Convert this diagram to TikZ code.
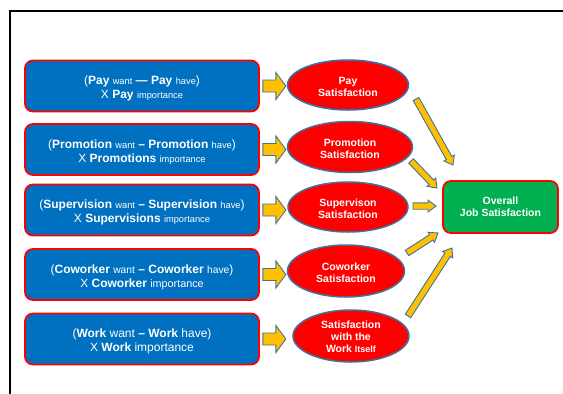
\documentclass[tikz,border=0pt]{standalone}
\usepackage{fontspec}
\setmainfont{Liberation Sans}
\usetikzlibrary{shapes.geometric,calc}

\definecolor{boxblue}{HTML}{0070C0}
\definecolor{ovalred}{HTML}{FF0000}
\definecolor{edgeblue}{HTML}{41719C}
\definecolor{lightedge}{HTML}{2E75B6}
\definecolor{arrowgold}{HTML}{FFC000}
\definecolor{okgreen}{HTML}{00B050}

% small size for the want / have / importance words
\newcommand\sm[2]{{\fontsize{#1}{14}\selectfont #2}}

% block arrow: #1 start, #2 tip, #3 half shaft width, #4 half head width, #5 head length
\newcommand\blockarrow[5]{%
  \coordinate (neck) at ($(#2)!#5!(#1)$);
  \draw[barrow] ($(#1)!#3!90:(#2)$) -- ($(neck)!#3!90:(#2)$) -- ($(neck)!#4!90:(#2)$)
    -- (#2) -- ($(neck)!#4!-90:(#2)$) -- ($(neck)!#3!-90:(#2)$) -- ($(#1)!#3!-90:(#2)$) -- cycle;}

\tikzset{
  factorbox/.style={draw=ovalred, line width=1.8pt, fill=boxblue, rounded corners=8pt,
    minimum width=234pt, minimum height=51pt, inner sep=0pt},
  factortext/.style={text=white, align=center, inner sep=0pt,
    font=\fontsize{12}{14}\selectfont},
  satoval/.style={ellipse, draw=edgeblue, line width=1.5pt, fill=ovalred, inner sep=0pt},
  sattext/.style={text=white, align=center, inner sep=0pt,
    font=\bfseries\fontsize{10.5}{12}\selectfont},
  overallbox/.style={draw=ovalred, line width=1.8pt, fill=okgreen, rounded corners=8pt,
    minimum width=115pt, minimum height=52pt, inner sep=0pt, text=white, align=center,
    font=\bfseries\fontsize{10.5}{12}\selectfont},
  barrow/.style={draw=edgeblue, line width=0.9pt, fill=arrowgold, line join=miter},
  frameline/.style={line width=2pt, black}
}

\begin{document}
\begin{tikzpicture}[x=1pt, y=-1pt]
\useasboundingbox (0,0) rectangle (563,394);

% outer frame
\coordinate (fbl) at (10,394);
\coordinate (ftl) at (10,11);
\coordinate (ftr) at (563,11);
\draw[frameline] (fbl) -- (ftl) -- (ftr);

% factor formulas
\node[factorbox] (b1) at (142,86) {};
\node[factorbox] (b2) at (142,149.5) {};
\node[factorbox] (b3) at (142,210) {};
\node[factorbox] (b4) at (142,274.5) {};
\node[factorbox] (b5) at (142,339) {};
\node[factortext] (t1) at ($(b1)+(0,2.5)$)
  {(\textbf{Pay} \sm{9.3}{want} \textbf{—} \textbf{Pay} \sm{9.3}{have})\\ X \textbf{Pay} \sm{9.3}{importance}};
\node[factortext] (t2) at ($(b2)+(0,2.5)$)
  {(\textbf{Promotion} \sm{9.3}{want} \textbf{–} \textbf{Promotion} \sm{9.3}{have})\\ X \textbf{Promotions} \sm{9.3}{importance}};
\node[factortext] (t3) at ($(b3)+(0,2.5)$)
  {(\textbf{Supervision} \sm{9.3}{want} \textbf{–} \textbf{Supervision} \sm{9.3}{have})\\ X \textbf{Supervisions} \sm{9.3}{importance}};
\node[factortext] (t4) at ($(b4)+(0,2.5)$)
  {(\textbf{Coworker} \sm{10.3}{want} \textbf{–} \textbf{Coworker} \sm{10.3}{have})\\ X \textbf{Coworker} \sm{10.8}{importance}};
\node[factortext] (t5) at ($(b5)+(0,2.5)$)
  {(\textbf{Work} want \textbf{–} \textbf{Work} have)\\ X \textbf{Work} importance};

% satisfaction ovals
\node[satoval, draw=lightedge, minimum width=121pt, minimum height=50pt] (s1) at (348,85) {};
\node[satoval, minimum width=125pt, minimum height=51pt] (s2) at (350,147) {};
\node[satoval, minimum width=120pt, minimum height=50pt] (s3) at (348,207) {};
\node[satoval, minimum width=117pt, minimum height=52pt] (s4) at (346,271) {};
\node[satoval, minimum width=116pt, minimum height=52pt] (s5) at (351,336) {};
\node[sattext] (u1) at ($(s1)+(0,1.5)$) {Pay\\Satisfaction};
\node[sattext] (u2) at ($(s2)+(0,1.5)$) {Promotion\\Satisfaction};
\node[sattext] (u3) at ($(s3)+(0,1.5)$) {Supervison\\Satisfaction};
\node[sattext] (u4) at ($(s4)+(0,1.5)$) {Coworker\\Satisfaction};
\node[sattext] (u5) at ($(s5)+(0,1)$)
  {Satisfaction\\with the\\Work {\fontsize{9}{12}\selectfont Itself}};

% overall result
\node[overallbox] (ov) at (500.5,207) {Overall\\Job Satisfaction};

% arrows from formulas to ovals
\foreach \i in {1,...,5}{
  \coordinate (fa\i) at ($(b\i.east)+(3,0)$);
  \coordinate (fz\i) at ($(b\i.east)+(26,0)$);
  \blockarrow{fa\i}{fz\i}{6pt}{13.5pt}{10pt}
}

% arrows from ovals to overall satisfaction
\coordinate (pa1) at (416,99);   \coordinate (pz1) at (453,165);
\coordinate (pa2) at (411,161);  \coordinate (pz2) at (437,188);
\coordinate (pa3) at (413,206);  \coordinate (pz3) at (436,206);
\coordinate (pa4) at (407,253);  \coordinate (pz4) at (438,233);
\coordinate (pa5) at (408,316);  \coordinate (pz5) at (452,248);
\foreach \i in {1,...,5}{
  \blockarrow{pa\i}{pz\i}{3.2pt}{6pt}{8pt}
}
\end{tikzpicture}
\end{document}
